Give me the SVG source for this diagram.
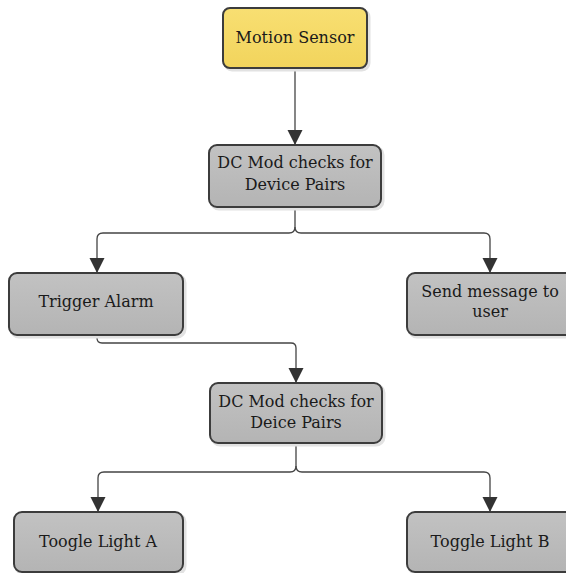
<svg xmlns="http://www.w3.org/2000/svg" width="566" height="573" viewBox="0 0 566 573">
<defs>
<linearGradient id="gy" x1="0" y1="0" x2="0" y2="1"><stop offset="0" stop-color="#f8df72"/><stop offset="1" stop-color="#f2d45c"/></linearGradient>
<linearGradient id="gg" x1="0" y1="0" x2="0" y2="1"><stop offset="0" stop-color="#c2c2c2"/><stop offset="1" stop-color="#b4b4b4"/></linearGradient>
<marker id="ah" markerUnits="userSpaceOnUse" markerWidth="16" markerHeight="16" refX="15" refY="7.5" orient="auto">
<path d="M0,0 L15,7.5 L0,15 Z" fill="#333"/>
</marker>
<style>
.box{stroke:#3c3c3c;stroke-width:2;}
.sh{fill:none;stroke:#e2e2e2;stroke-width:3;}
.y{fill:url(#gy);}
.g{fill:url(#gg);}
text{font-family:"DejaVu Serif","Liberation Serif",serif;font-size:16px;fill:#1a1a1a;text-anchor:middle;}
.c{fill:none;stroke:#444;stroke-width:1.3;}
</style>
</defs>
<rect width="566" height="573" fill="#fff"/>
<g id="connectors">
<path class="c" d="M295,68 V145" marker-end="url(#ah)"/>
<path class="c" d="M295,207 V227 Q295,233 289,233 H103 Q97,233 97,239 V273" marker-end="url(#ah)"/>
<path class="c" d="M295,227 Q295,233 301,233 H484 Q490,233 490,239 V273" marker-end="url(#ah)"/>
<path class="c" d="M97,335 V338 Q97,343 102,343 H291 Q296,343 296,348 V383" marker-end="url(#ah)"/>
<path class="c" d="M296,443 V466 Q296,472 290,472 H104 Q98,472 98,478 V512" marker-end="url(#ah)"/>
<path class="c" d="M296,466 Q296,472 302,472 H484 Q490,472 490,478 V512" marker-end="url(#ah)"/>
</g>
<g id="motion-sensor">
<rect class="sh" x="225" y="10" width="144" height="60" rx="7"/>
<rect class="box y" x="223" y="8" width="144" height="60" rx="7"/>
<text x="295" y="43">Motion Sensor</text>
</g>
<g id="dc-mod-1">
<rect class="sh" x="211" y="147" width="172" height="62" rx="8"/>
<rect class="box g" x="209" y="145" width="172" height="62" rx="8"/>
<text x="295" y="168">DC Mod checks for</text>
<text x="295" y="190">Device Pairs</text>
</g>
<g id="trigger-alarm">
<rect class="sh" x="11" y="275" width="174" height="62" rx="8"/>
<rect class="box g" x="9" y="273" width="174" height="62" rx="8"/>
<text x="96" y="307">Trigger Alarm</text>
</g>
<g id="send-message">
<rect class="sh" x="409" y="275" width="170" height="62" rx="8"/>
<rect class="box g" x="407" y="273" width="170" height="62" rx="8"/>
<text x="490" y="297">Send message to</text>
<text x="490" y="317">user</text>
</g>
<g id="dc-mod-2">
<rect class="sh" x="212" y="385" width="172" height="60" rx="8"/>
<rect class="box g" x="210" y="383" width="172" height="60" rx="8"/>
<text x="296" y="407">DC Mod checks for</text>
<text x="296" y="428">Deice Pairs</text>
</g>
<g id="toggle-light-a">
<rect class="sh" x="16" y="514" width="169" height="60" rx="8"/>
<rect class="box g" x="14" y="512" width="169" height="60" rx="8"/>
<text x="98" y="547">Toogle Light A</text>
</g>
<g id="toggle-light-b">
<rect class="sh" x="409" y="514" width="170" height="60" rx="8"/>
<rect class="box g" x="407" y="512" width="170" height="60" rx="8"/>
<text x="490" y="547">Toggle Light B</text>
</g>
</svg>
